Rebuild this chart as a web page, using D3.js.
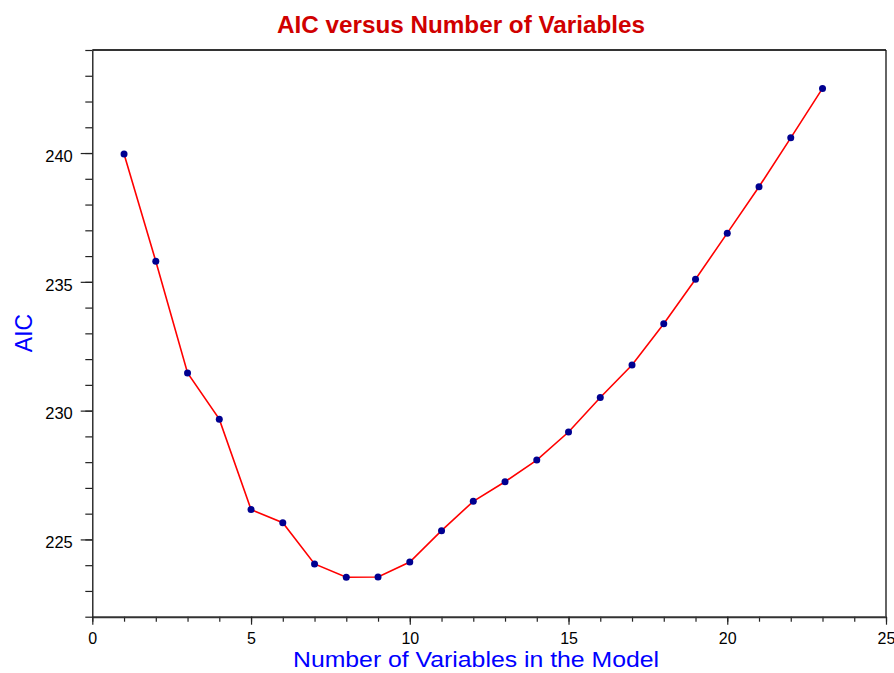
<!DOCTYPE html>
<html><head><meta charset="utf-8">
<script src="https://cdn.jsdelivr.net/npm/d3@7"></script>
<style>body{margin:0;background:#fff;} svg{display:block;}</style>
</head><body>
<svg id="c" width="894" height="673"></svg>
<script>
const numVars = [1,2,3,4,5,6,7,8,9,10,11,12,13,14,15,16,17,18,19,20,21,22,23];
const aicValues = [239.96,235.80,231.46,229.67,226.16,225.65,224.05,223.53,223.54,224.12,225.34,226.48,227.24,228.08,229.17,230.51,231.77,233.37,235.10,236.89,238.69,240.59,242.51];
const xMajorTicks = [0,5,10,15,20,25];
const yMajorTicks = [225,230,235,240];
const titleText = "AIC versus Number of Variables";
const xLabelText = "Number of Variables in the Model";
const yLabelText = "AIC";

const svg = d3.select("#c");
const L = 92.3, R = 886, T = 50, B = 616.7;
const x = d3.scaleLinear().domain([0,25]).range([L,R]);
const y = d3.scaleLinear().domain([222,244]).range([B,T]);
const font = "Arial, 'Liberation Sans', Helvetica, sans-serif";

// frame
svg.append("line").attr("x1",L).attr("x2",R).attr("y1",T).attr("y2",T).attr("stroke","#333").attr("stroke-width",2);
svg.append("line").attr("x1",R).attr("x2",R).attr("y1",T).attr("y2",B).attr("stroke","#111").attr("stroke-width",1.3);

// minor ticks
const yMinor = svg.append("g").attr("transform",`translate(${L},0)`)
  .call(d3.axisLeft(y).tickValues(d3.range(222,245)).tickSize(7).tickFormat(""));
const xMinor = svg.append("g").attr("transform",`translate(0,${B})`)
  .call(d3.axisBottom(x).tickValues(d3.range(0,26)).tickSize(5).tickFormat(""));
[yMinor,xMinor].forEach(g=>{g.select(".domain").remove(); g.selectAll("line").attr("stroke","#222").attr("stroke-width",1.2);});

// major axes
const yAx = svg.append("g").attr("transform",`translate(${L},0)`)
  .call(d3.axisLeft(y).tickValues(yMajorTicks).tickSize(11.6).tickPadding(7).tickSizeOuter(0));
yAx.select(".domain").attr("stroke","#111").attr("stroke-width",1.3);
yAx.selectAll("line").attr("stroke","#222").attr("stroke-width",1.2);
yAx.selectAll("text").attr("font-family",font).attr("font-size",16.5).attr("fill","#000").attr("dy","0.5em").attr("x",-19.5);

const xAx = svg.append("g").attr("transform",`translate(0,${B})`)
  .call(d3.axisBottom(x).tickValues(xMajorTicks).tickSize(8).tickSizeOuter(0));
xAx.select(".domain").attr("stroke","#333").attr("stroke-width",2);
xAx.selectAll("line").attr("stroke","#222").attr("stroke-width",1.2);
xAx.selectAll("text").attr("font-family",font).attr("font-size",16).attr("fill","#000").attr("dy",0).attr("y",27.3);

// line + points
const data = numVars.map((v,i)=>({n:v,a:aicValues[i]}));
svg.append("path").datum(data)
  .attr("d", d3.line().x(d=>x(d.n)).y(d=>y(d.a)))
  .attr("fill","none").attr("stroke","#ff0000").attr("stroke-width",1.6);
svg.selectAll("circle.pt").data(data).join("circle").attr("class","pt")
  .attr("cx",d=>x(d.n)).attr("cy",d=>y(d.a)).attr("r",3.5).attr("fill","#000090");

// texts
svg.append("text").attr("x",461).attr("y",33.3).attr("text-anchor","middle")
  .attr("font-family",font).attr("font-weight","bold").attr("font-size",23).attr("fill","#d00000")
  .attr("textLength",368).attr("lengthAdjust","spacingAndGlyphs").text(titleText);
svg.append("text").attr("x",476).attr("y",667).attr("text-anchor","middle")
  .attr("font-family",font).attr("font-size",22).attr("fill","#0000ff")
  .attr("textLength",366).attr("lengthAdjust","spacingAndGlyphs").text(xLabelText);
svg.append("text").attr("transform","translate(32,333) rotate(-90)").attr("text-anchor","middle")
  .attr("font-family",font).attr("font-size",23).attr("fill","#0000ff").text(yLabelText);
</script>
</body></html>
